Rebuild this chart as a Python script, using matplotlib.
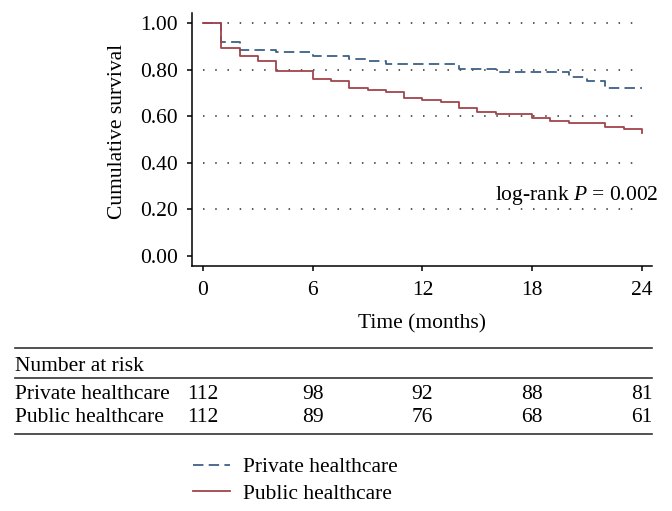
import matplotlib
matplotlib.use("Agg")
import matplotlib.pyplot as plt
from matplotlib.lines import Line2D
from matplotlib.transforms import blended_transform_factory

# ---- data ----
private_t = [0, 1, 2, 4, 6, 8, 9, 10, 14, 16, 20, 21, 22, 24]
private_s = [1.0, 0.920, 0.883, 0.874, 0.857, 0.847, 0.838, 0.823, 0.803, 0.791, 0.770, 0.751, 0.722, 0.722]
public_t = [0, 1, 2, 3, 4, 6, 7, 8, 9, 10, 11, 12, 13, 14, 15, 16, 18, 19, 20, 22, 23, 24]
public_s = [1.0, 0.891, 0.857, 0.838, 0.794, 0.758, 0.750, 0.722, 0.714, 0.705, 0.677, 0.670,
            0.661, 0.634, 0.617, 0.608, 0.591, 0.581, 0.571, 0.554, 0.545, 0.529]
risk_times = [0, 6, 12, 18, 24]
risk_private = [112, 98, 92, 88, 81]
risk_public = [112, 89, 76, 68, 61]
group_labels = ["Private healthcare", "Public healthcare"]
yticks = [0.0, 0.2, 0.4, 0.6, 0.8, 1.0]
ytick_labels = ["0.00", "0.20", "0.40", "0.60", "0.80", "1.00"]
xticks = [0, 6, 12, 18, 24]

plt.rcParams['font.family'] = ['Liberation Serif', 'DejaVu Serif']
plt.rcParams['mathtext.fontset'] = 'custom'
plt.rcParams['mathtext.rm'] = 'Liberation Serif'
plt.rcParams['mathtext.it'] = 'Liberation Serif:italic'
plt.rcParams['lines.scale_dashes'] = False

FS = 15.5
W, H = 672, 511
fig = plt.figure(figsize=(W / 100, H / 100), dpi=100)
ax = fig.add_axes([192 / W, (H - 266) / H, (652 - 192) / W, (266 - 13) / H])

blue = "#3d6186"
red = "#a2434c"

for y in yticks[1:]:
    ax.hlines(y, 0, 24, colors="#4d4d4d", linewidth=1.3, linestyles=(0, (1.1, 7.7)), zorder=1)

lb, = ax.step(private_t, private_s, where='post', color=blue, linewidth=1.3,
              dashes=(7.5, 3.8), label=group_labels[0], zorder=3)
lr, = ax.step(public_t, public_s, where='post', color=red, linewidth=1.3,
              label=group_labels[1], zorder=3)

ax.set_xlim(-0.6, 24.55)
ax.set_ylim(-0.043, 1.043)
ax.set_xticks(xticks)
ax.set_yticks(yticks)
ax.set_yticklabels(ytick_labels)
for s in ['top', 'right']:
    ax.spines[s].set_visible(False)
for s in ['left', 'bottom']:
    ax.spines[s].set_linewidth(1.1)
ax.tick_params(axis='both', direction='out', length=3.6, width=1.1, labelsize=FS)
ax.tick_params(axis='x', pad=7.5)
ax.tick_params(axis='y', pad=6.5)

ax.set_ylabel("Cumulative survival", fontsize=FS)
ax.yaxis.set_label_coords(-0.141, 0.53)
ax.set_xlabel("Time (months)", fontsize=FS)
ax.xaxis.set_label_coords(0.5, -0.19)

ax.text(24.88, 0.240, "log-rank $P$ = 0.002", ha='right', va='baseline', fontsize=FS, clip_on=False)

# ---- number at risk table ----
def fy(px):
    return (H - px) / H

for py in [348, 378, 434]:
    fig.add_artist(Line2D([15 / W, 652 / W], [fy(py), fy(py)], color="#333333", linewidth=1.2))

fig.text(15 / W, fy(371), "Number at risk", ha='left', va='baseline', fontsize=FS)
trans = blended_transform_factory(ax.transData, fig.transFigure)
for row_y, lab, vals in [(399, group_labels[0], risk_private), (422, group_labels[1], risk_public)]:
    fig.text(15 / W, fy(row_y), lab, ha='left', va='baseline', fontsize=FS)
    for t, v in zip(risk_times, vals):
        ax.text(t, fy(row_y), str(v), transform=trans, ha='center', va='baseline', fontsize=FS, clip_on=False)

fig.legend(handles=[lb, lr], labels=group_labels, loc='upper left',
           bbox_to_anchor=(193 / W, fy(457)), frameon=False, borderpad=0, borderaxespad=0,
           handlelength=1.72, handletextpad=0.6, labelspacing=0.3, fontsize=FS)

fig.savefig("out.png", dpi=100)
